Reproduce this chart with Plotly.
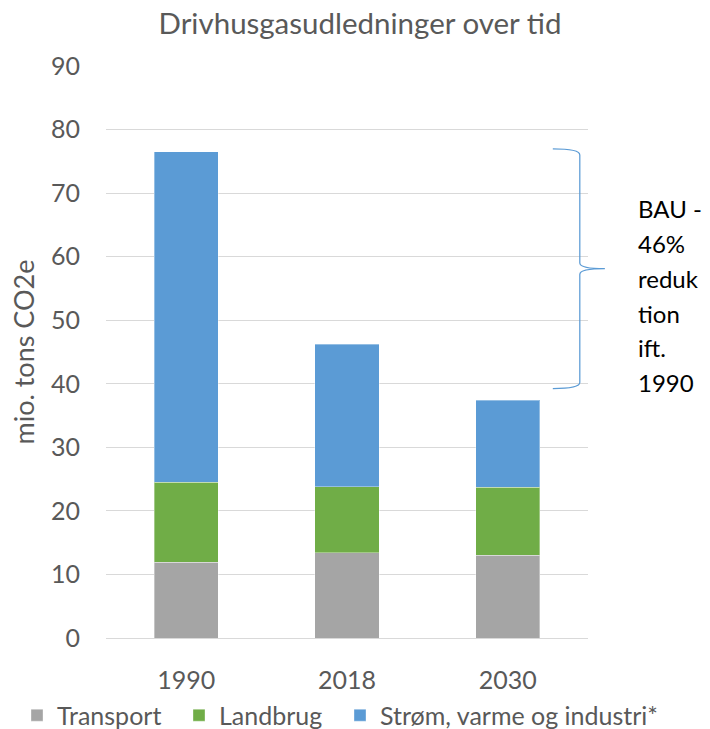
import plotly.graph_objects as go

years = ["1990", "2018", "2030"]
transport = [11.9, 13.4, 13.0]
landbrug = [12.6, 10.4, 10.7]
strom = [52.0, 22.4, 13.7]
series_names = ["Transport", "Landbrug", "Strøm, varme og industri*"]
colors = ["#A5A5A5", "#70AD47", "#5B9BD5"]
y_ticks = [0, 10, 20, 30, 40, 50, 60, 70, 80, 90]
bau_lines = ["BAU -", "46%", "reduk", "tion", "ift.", "1990"]

FONT = "Lato, Open Sans, sans-serif"
TXT = "#595959"

# plot area geometry (px)
L, R, T, B = 106, 588, 66, 638.5
W, H = 710, 729
pw, ph = R - L, B - T

def px_x(px):
    return (px - L) / pw

def px_y(py):
    return (B - py) / ph

fig = go.Figure()
legend_ids = ["legend", "legend2", "legend3"]
for name, vals, col, lg in zip(series_names, [transport, landbrug, strom], colors, legend_ids):
    fig.add_trace(go.Bar(x=years, y=vals, name=name, legend=lg,
                         marker=dict(color=col, line=dict(color="rgba(255,255,255,0.35)", width=1))))

# brace annotation (paper x, data y)
brace = ("M 0.927,76.95 Q 0.983,76.95 0.983,76.0 L 0.983,59.0 "
         "Q 0.983,58.1 1.035,58.1 Q 0.983,58.1 0.983,57.2 "
         "L 0.983,40.2 Q 0.983,39.25 0.927,39.25")
fig.add_shape(type="path", path=brace, xref="paper", yref="y",
              line=dict(color="#5B9BD5", width=1.25))

for i, line in enumerate(bau_lines):
    fig.add_annotation(text=line, xref="paper", yref="paper",
                       x=px_x(636), y=px_y(209 + i * 34.8), xanchor="left", yanchor="middle",
                       align="left", showarrow=False, font=dict(family=FONT, size=24, color="#000000"))

legend_common = dict(orientation="h", xanchor="left", yanchor="middle", y=px_y(716),
                     font=dict(family=FONT, size=25, color=TXT), bgcolor="rgba(0,0,0,0)")

fig.update_layout(
    width=W, height=H,
    barmode="stack", bargap=0.6,
    plot_bgcolor="white", paper_bgcolor="white",
    margin=dict(l=L, r=W - R, t=T, b=H - B, autoexpand=False),
    font=dict(family=FONT, color=TXT),
    title=dict(text="Drivhusgasudledninger over tid", x=360 / W, xanchor="center",
               y=1 - 24 / H, yanchor="middle", xref="container", yref="container",
               font=dict(family=FONT, size=29.5, color=TXT)),
    xaxis=dict(showgrid=False, showline=False, tickfont=dict(size=25, color=TXT),
               ticks="outside", ticklen=20, tickcolor="rgba(0,0,0,0)", automargin=False),
    yaxis=dict(range=[0, 90], tickvals=y_ticks, showgrid=True, gridcolor="#D9D9D9", gridwidth=1.3,
               zeroline=True, zerolinecolor="#D9D9D9", zerolinewidth=1.3, automargin=False,
               tickfont=dict(size=25, color=TXT), ticks="outside", ticklen=20, tickcolor="rgba(0,0,0,0)",
               title=dict(text="mio. tons CO2e", font=dict(size=27, color=TXT), standoff=8)),
    legend=dict(x=px_x(17), **legend_common),
    legend2=dict(x=px_x(179), **legend_common),
    legend3=dict(x=px_x(340), **legend_common),
    showlegend=True,
)
fig.write_html("out.html", config={"displayModeBar": False},
               post_script="document.body.style.margin='0';document.body.style.padding='0';")
